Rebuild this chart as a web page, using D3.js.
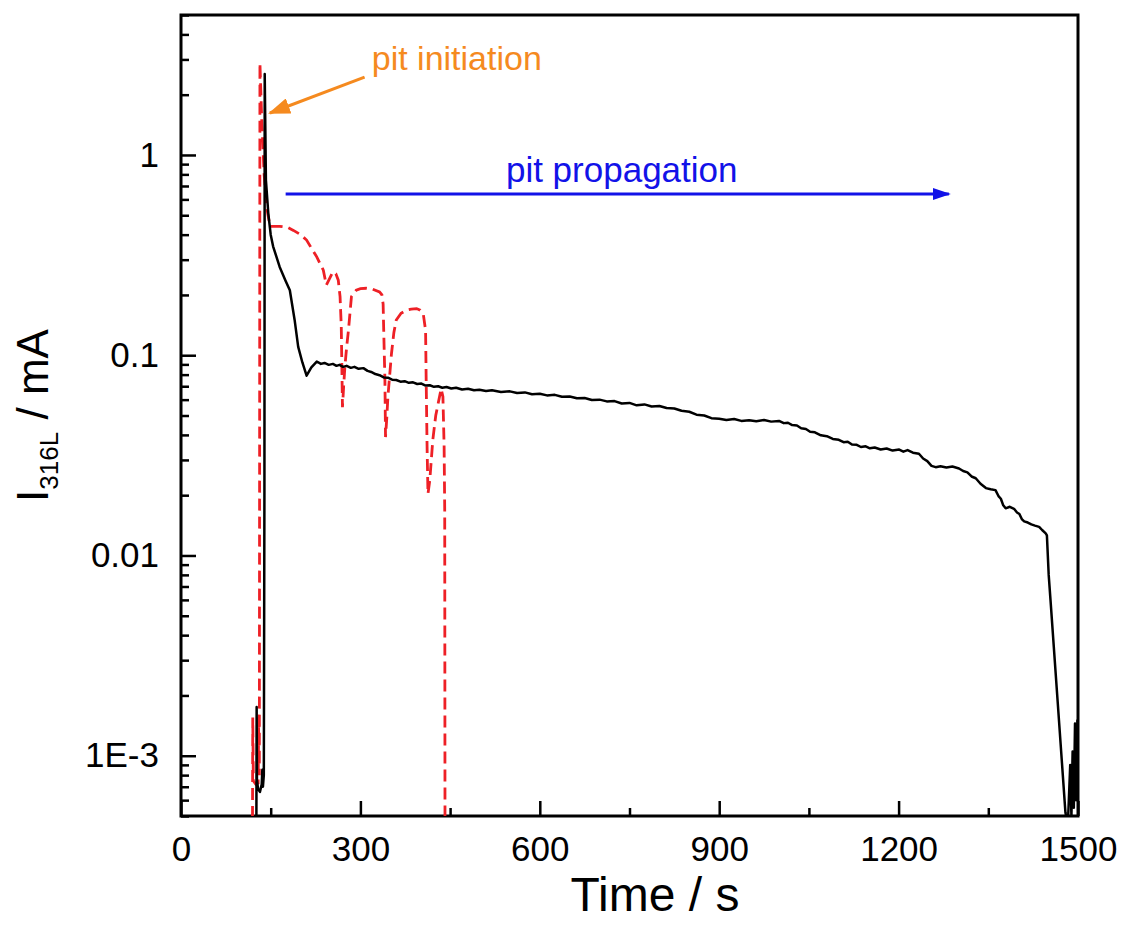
<!DOCTYPE html>
<html>
<head>
<meta charset="utf-8">
<script src="https://cdn.jsdelivr.net/npm/d3@7"></script>
<style>
  body { margin: 0; background: #fff; }
  text { font-family: "Liberation Sans", Arial, sans-serif; }
</style>
</head>
<body>
<div id="chart"></div>
<script>
// black solid curve: time (s) and current (mA)
var blackTime = [118, 126, 126.5, 127, 129, 132, 135, 136, 137, 138.5, 139.5, 140, 142, 146, 150, 154, 165, 175, 182, 190, 196, 203, 210, 218, 227, 234, 240, 247, 254, 260, 265, 271, 277, 284, 290, 297, 305, 312, 318, 325, 332, 339, 346, 353, 360, 367, 374, 381, 388, 395, 402, 409, 416, 423, 430, 437, 444, 452, 460, 470, 480, 490, 499, 510, 520, 535, 550, 562, 575, 587, 600, 612, 625, 637, 650, 662, 675, 687, 700, 712, 725, 737, 750, 762, 775, 787, 800, 812, 825, 837, 850, 862, 875, 887, 900, 912, 925, 937, 950, 962, 975, 987, 1000, 1008, 1015, 1022, 1030, 1037, 1045, 1052, 1060, 1070, 1080, 1090, 1100, 1108, 1115, 1122, 1130, 1137, 1145, 1152, 1160, 1170, 1180, 1190, 1201, 1208, 1215, 1224, 1234, 1241, 1248, 1255, 1262, 1270, 1280, 1290, 1301, 1308, 1315, 1322, 1329, 1337, 1346, 1354, 1362, 1367, 1371, 1375, 1379, 1386, 1393, 1398, 1402, 1406, 1410, 1416, 1422, 1428, 1435, 1440, 1446, 1448, 1451, 1454, 1466, 1479, 1483, 1487, 1489, 1491, 1493, 1495, 1497, 1499, 1500];
var blackCurrent = [4e-4, 4e-4, 1.75e-3, 7.5e-4, 6.8e-4, 6.6e-4, 7.2e-4, 8.5e-4, 7e-4, 8e-4, 0.02, 2.54, 0.75, 0.51, 0.40, 0.35, 0.276, 0.235, 0.211, 0.15, 0.11, 0.092, 0.079, 0.087, 0.093, 0.0905, 0.0915, 0.0895, 0.0905, 0.0885, 0.0895, 0.0875, 0.0885, 0.0865, 0.0875, 0.0855, 0.0862, 0.0835, 0.0825, 0.0805, 0.0795, 0.0775, 0.0772, 0.0755, 0.0752, 0.0738, 0.0742, 0.0728, 0.0732, 0.0718, 0.0722, 0.0705, 0.0708, 0.0695, 0.0700, 0.0688, 0.0694, 0.0682, 0.0688, 0.0674, 0.0680, 0.0668, 0.0672, 0.0662, 0.0668, 0.0655, 0.0660, 0.0648, 0.0652, 0.0638, 0.0642, 0.0630, 0.0634, 0.0620, 0.0622, 0.0610, 0.0612, 0.0598, 0.0600, 0.0588, 0.0590, 0.0574, 0.0578, 0.0562, 0.0568, 0.0555, 0.0558, 0.0545, 0.0542, 0.0528, 0.0522, 0.0505, 0.0500, 0.0485, 0.0482, 0.0475, 0.0480, 0.0470, 0.0474, 0.0468, 0.0475, 0.0466, 0.0470, 0.0458, 0.0460, 0.0448, 0.0446, 0.0432, 0.0428, 0.0415, 0.0412, 0.0398, 0.0394, 0.0382, 0.0378, 0.0368, 0.0370, 0.0358, 0.0357, 0.0348, 0.0351, 0.0343, 0.0346, 0.0338, 0.0342, 0.0334, 0.0338, 0.0330, 0.0336, 0.0326, 0.0322, 0.0305, 0.0296, 0.0280, 0.0276, 0.0279, 0.0275, 0.0278, 0.0272, 0.0264, 0.0260, 0.0248, 0.0243, 0.0228, 0.0217, 0.0214, 0.0212, 0.0198, 0.0192, 0.0178, 0.0172, 0.0175, 0.0171, 0.0164, 0.0161, 0.0152, 0.0148, 0.0146, 0.0143, 0.0141, 0.0139, 0.0134, 0.0129, 0.0126, 0.008, 0.006, 1.86e-3, 5.2e-4, 4.5e-4, 9e-4, 5e-4, 1.05e-3, 5.5e-4, 1.45e-3, 6e-4, 1.5e-3, 8e-4];

// red dashed curve
var redTime = [118.5, 119.5, 120, 121, 125, 129, 130, 131, 132, 135, 139, 144, 149, 165, 178, 188, 200, 210, 220, 227, 233, 238, 243, 248, 254, 259, 263, 266, 268, 270, 272, 274, 277, 280, 285, 293, 300, 310, 320, 332, 336, 338, 339, 341, 342, 344, 346, 352, 356, 360, 368, 377, 385, 394, 400, 405, 409, 410, 411.5, 413, 416, 421, 426, 430, 435, 438, 440, 441, 441.5];
var redCurrent = [4e-4, 4e-4, 1.55e-3, 7.5e-4, 7.2e-4, 7.3e-4, 1.55e-3, 8e-4, 2.88, 1.5, 0.8, 0.53, 0.44, 0.44, 0.435, 0.42, 0.40, 0.376, 0.335, 0.31, 0.285, 0.266, 0.224, 0.24, 0.261, 0.255, 0.237, 0.196, 0.14, 0.055, 0.07, 0.087, 0.11, 0.133, 0.196, 0.211, 0.215, 0.216, 0.214, 0.207, 0.2, 0.18, 0.133, 0.075, 0.039, 0.048, 0.062, 0.102, 0.13, 0.15, 0.162, 0.168, 0.17, 0.171, 0.168, 0.162, 0.133, 0.075, 0.035, 0.0203, 0.0237, 0.0376, 0.05, 0.0574, 0.068, 0.062, 0.035, 0.0168, 4e-4];

// axis ticks
var xTicks = [0, 300, 600, 900, 1200, 1500];
var xMinorTicks = [150, 450, 750, 1050, 1350];
var yTicks = [1e-3, 0.01, 0.1, 1];
var yTickLabels = ["1E-3", "0.01", "0.1", "1"];

// annotations (time, current)
var initArrowTime = [307, 148.7];
var initArrowCurrent = [2.45, 1.62];
var initLabelPos = [319, 2.66];
var propArrowTime = [175, 1284];
var propArrowCurrent = [0.638, 0.638];
var propLabelPos = [737, 0.735];

var W = 1125, H = 931;
var margin = { top: 15, right: 47, bottom: 115, left: 181 },
    width = W - margin.left - margin.right,
    height = H - margin.top - margin.bottom;

var svg = d3.select("#chart").append("svg")
    .attr("width", W)
    .attr("height", H);

var defs = svg.append("defs");
defs.append("clipPath").attr("id", "plotclip")
    .append("rect").attr("width", width).attr("height", height);

defs.append("marker").attr("id", "headOrange")
    .attr("viewBox", "0 0 22 16").attr("refX", 20).attr("refY", 8)
    .attr("markerWidth", 22).attr("markerHeight", 16)
    .attr("markerUnits", "userSpaceOnUse").attr("orient", "auto")
    .append("path").attr("d", "M0,0L22,8L0,16Z").attr("fill", "#f58a1f");

defs.append("marker").attr("id", "headBlue")
    .attr("viewBox", "0 0 18 12").attr("refX", 16).attr("refY", 6)
    .attr("markerWidth", 18).attr("markerHeight", 12)
    .attr("markerUnits", "userSpaceOnUse").attr("orient", "auto")
    .append("path").attr("d", "M0,0L18,6L0,12Z").attr("fill", "#1212e8");

var g = svg.append("g")
    .attr("transform", "translate(" + margin.left + "," + margin.top + ")");

var x = d3.scaleLinear().domain([0, 1500]).range([0, width]);
var y = d3.scaleLog().domain([5e-4, 5]).range([height, 0]);

// minor y ticks 2..9 per decade
var yMinorTicks = [];
[1e-4, 1e-3, 1e-2, 1e-1, 1].forEach(function(dec) {
  for (var k = 2; k <= 9; k++) {
    var v = dec * k;
    if (v >= 5e-4 && v <= 5.0001) yMinorTicks.push(v);
  }
});

// x axis
g.append("g")
    .attr("transform", "translate(0," + height + ")")
    .call(d3.axisBottom(x).tickValues(xTicks).tickSize(-15).tickPadding(20)
      .tickFormat(function(d) { return d; }));
g.append("g")
    .attr("transform", "translate(0," + height + ")")
    .call(d3.axisBottom(x).tickValues(xMinorTicks).tickSize(-8).tickFormat(""));

// y axis
g.append("g")
    .call(d3.axisLeft(y).tickValues(yTicks).tickSize(-15).tickPadding(22)
      .tickFormat(function(d, i) { return yTickLabels[i]; }));
g.append("g")
    .call(d3.axisLeft(y).tickValues(yMinorTicks).tickSize(-8).tickFormat(""));

g.selectAll(".domain").remove();
g.selectAll(".tick line").attr("stroke", "#000").attr("stroke-width", 2.5);
g.selectAll(".tick text").attr("fill", "#000").style("font-size", "35px")
    .style("font-family", "'Liberation Sans', Arial, sans-serif");

// frame
g.append("rect")
    .attr("width", width).attr("height", height)
    .attr("fill", "none").attr("stroke", "#000").attr("stroke-width", 3);

// curves
var line = d3.line()
    .x(function(d) { return x(d[0]); })
    .y(function(d) { return y(d[1]); });

var plot = g.append("g").attr("clip-path", "url(#plotclip)");

plot.append("path")
    .datum(redTime.map(function(t, i) { return [t, redCurrent[i]]; }))
    .attr("fill", "none")
    .attr("stroke", "#ee2026")
    .attr("stroke-width", 2.8)
    .attr("stroke-dasharray", "12,6")
    .attr("d", line);

plot.append("path")
    .datum(blackTime.map(function(t, i) { return [t, blackCurrent[i]]; }))
    .attr("fill", "none")
    .attr("stroke", "#000")
    .attr("stroke-width", 2.5)
    .attr("stroke-linejoin", "round")
    .attr("d", line);

// annotations
g.append("line")
    .attr("x1", x(initArrowTime[0])).attr("y1", y(initArrowCurrent[0]))
    .attr("x2", x(initArrowTime[1])).attr("y2", y(initArrowCurrent[1]))
    .attr("stroke", "#f58a1f").attr("stroke-width", 3)
    .attr("marker-end", "url(#headOrange)");
g.append("text")
    .attr("x", x(initLabelPos[0])).attr("y", y(initLabelPos[1]))
    .attr("fill", "#f58a1f").style("font-size", "34px")
    .text("pit initiation");

g.append("line")
    .attr("x1", x(propArrowTime[0])).attr("y1", y(propArrowCurrent[0]))
    .attr("x2", x(propArrowTime[1])).attr("y2", y(propArrowCurrent[1]))
    .attr("stroke", "#1212e8").attr("stroke-width", 3)
    .attr("marker-end", "url(#headBlue)");
g.append("text")
    .attr("x", x(propLabelPos[0])).attr("y", y(propLabelPos[1]))
    .attr("text-anchor", "middle")
    .attr("fill", "#1212e8").style("font-size", "35px")
    .text("pit propagation");

// axis titles
svg.append("text")
    .attr("x", 655).attr("y", 911)
    .attr("text-anchor", "middle")
    .style("font-size", "48px")
    .text("Time / s");

var yTitle = svg.append("text")
    .attr("transform", "translate(48," + (margin.top + height / 2) + ") rotate(-90)")
    .attr("text-anchor", "middle")
    .style("font-size", "44px");
yTitle.append("tspan").text("I");
yTitle.append("tspan").attr("dy", 10).style("font-size", "26px").text("316L");
yTitle.append("tspan").attr("dy", -10).text(" / mA");
</script>
</body>
</html>
